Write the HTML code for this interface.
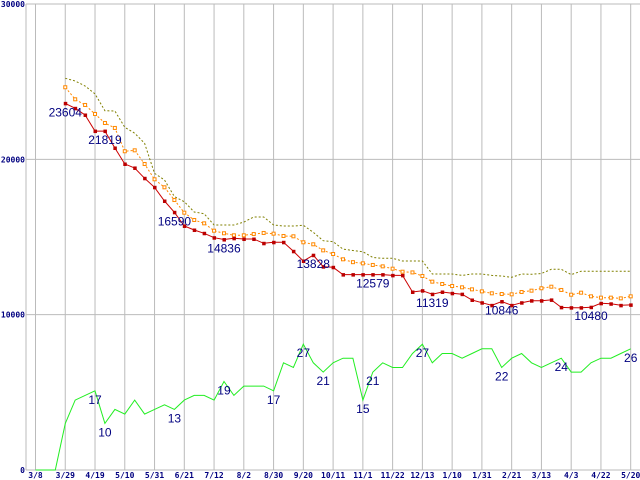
<!DOCTYPE html>
<html><head><meta charset="utf-8"><style>
html,body{margin:0;padding:0;background:#fff}
svg{display:block}
</style></head><body>
<svg id="chart" width="640" height="480" xmlns="http://www.w3.org/2000/svg" font-family="Liberation Sans, sans-serif"></svg>
<script>
const xTickLabels = ["3/8","3/29","4/19","5/10","5/31","6/21","7/12","8/2","8/30","9/20","10/11","11/1","11/22","12/13","1/10","1/31","2/21","3/13","4/3","4/22","5/20"];
const yTickValues = [0,10000,20000,30000];
const N = null;
const redValues = [N,N,N,23604,23285,22855,21819,21819,20730,19700,19445,18780,18200,17318,16590,15710,15450,15240,14955,14836,14916,14870,14870,14595,14660,14660,14080,13455,13828,13090,13050,12579,12579,12579,12579,12579,12530,12530,11460,11545,11319,11460,11375,11320,10945,10770,10600,10846,10600,10770,10900,10900,10950,10470,10450,10450,10480,10730,10700,10600,10630];
const orangeValues = [N,N,N,24640,23865,23500,22920,22340,22020,20520,20580,19700,18715,18200,17380,16565,16095,15880,15405,15240,15110,15110,15190,15260,15215,15065,15045,14660,14530,14140,13905,13565,13380,13305,13200,13110,12960,12765,12720,12490,12125,11975,11845,11760,11630,11500,11375,11330,11310,11460,11545,11700,11800,11590,11285,11415,11180,11095,11095,11050,11180];
const oliveValues = [N,N,N,25215,25045,24720,24210,23130,23110,22065,21680,21030,19100,18670,17600,17275,16610,16500,15775,15770,15770,15960,16285,16285,15775,15710,15710,15750,15300,14760,14700,14220,14130,14045,13680,13630,13630,13455,13455,13455,12620,12620,12620,12530,12620,12620,12530,12490,12405,12620,12600,12650,12920,12920,12580,12800,12800,12800,12800,12800,12800];
const greenValues = [0,0,0,10,15,16,17,10,13,12,15,12,13,14,13,15,16,16,15,19,16,18,18,18,17,23,22,27,23,21,23,24,24,15,21,23,22,22,25,27,23,25,25,24,25,26,26,22,24,25,23,22,23,24,21,21,23,24,24,25,26];
const redLabelIdx = [3,7,14,19,28,34,40,47,56];
const redLabelText = ["23604","21819","16590","14836","13828","12579","11319","10846","10480"];
const greenLabelIdx = [6,7,14,19,24,27,29,33,34,39,47,53,60];
const greenLabelText = ["17","10","13","19","17","27","21","15","21","27","22","24","26"];

const svg = document.getElementById('chart');
const NS = 'http://www.w3.org/2000/svg';
const X0 = 35.5, DX = 9.92, Y0 = 470, Y1 = 4, AXL = 26;
const xAt = i => X0 + DX * i;
const yAt = v => Y0 - (v / 30000) * (Y0 - Y1);
const yG = v => Y0 - (v / 100) * (Y0 - Y1);
function mk(tag, attrs, parent) {
  const e = document.createElementNS(NS, tag);
  for (const k in attrs) e.setAttribute(k, attrs[k]);
  (parent || svg).appendChild(e);
  return e;
}
// grid
const grid = mk('g', {});


yTickValues.forEach(v => {
  const l = mk('line', {x1: AXL, x2: 640, y1: yAt(v), y2: yAt(v), stroke: '#bbbbbb', 'stroke-width': 1}, grid);
  
  
  const t = mk('text', {x: 25, y: yAt(v) + 3, 'text-anchor': 'end', 'font-size': 8, 'font-weight': 'bold', fill: '#000080', 'font-family': 'DejaVu Sans Mono, monospace'});
  t.textContent = v;
  
  
});
mk('line', {x1: AXL, x2: AXL, y1: Y1, y2: Y0, stroke: '#bbbbbb', 'stroke-width': 1}, grid);
xTickLabels.forEach((s, k) => {
  const x = xAt(k * 3);
  const l = mk('line', {x1: x, x2: x, y1: Y1, y2: Y0, stroke: '#bbbbbb', 'stroke-width': 1}, grid);
  
  
  const t = mk('text', {x: x, y: 478, 'text-anchor': 'middle', 'font-size': 8, 'font-weight': 'bold', fill: '#000080', 'font-family': 'DejaVu Sans Mono, monospace'});
  t.textContent = s;
  
  
});
function pts(vals, yf) {
  const a = [];
  vals.forEach((v, i) => { if (v !== null) a.push(xAt(i).toFixed(1) + ',' + yf(v).toFixed(1)); });
  return a.join(' ');
}
// olive
const ol = mk('polyline', {points: pts(oliveValues, yAt), fill: 'none', stroke: '#808000', 'stroke-width': 1, 'stroke-dasharray': '2,2'});


// orange
const orl = mk('polyline', {points: pts(orangeValues, yAt), fill: 'none', stroke: '#ff8800', 'stroke-width': 1, 'stroke-dasharray': '2,2'});


orangeValues.forEach((v, i) => {
  if (v === null) return;
  const r = mk('rect', {x: xAt(i) - 1.5, y: yAt(v) - 1.5, width: 3, height: 3, fill: '#fff', stroke: '#ff8800', 'stroke-width': 1});
  
  
});
// red
const rl = mk('polyline', {points: pts(redValues, yAt), fill: 'none', stroke: '#cc0000', 'stroke-width': 1});


redValues.forEach((v, i) => {
  if (v === null) return;
  const r = mk('rect', {x: xAt(i) - 1.5, y: yAt(v) - 1.5, width: 3.5, height: 3.5, fill: '#bb0000'});
  
  
});
// green
const gl = mk('polyline', {points: pts(greenValues, yG), fill: 'none', stroke: '#22ee22', 'stroke-width': 1});


// labels
redLabelIdx.forEach((i, k) => {
  const t = mk('text', {x: xAt(i), y: yAt(redValues[i]) + 13, 'text-anchor': 'middle', 'font-size': 12, fill: '#000080'});
  t.textContent = redLabelText[k];
  
  
});
greenLabelIdx.forEach((i, k) => {
  const t = mk('text', {x: xAt(i), y: yG(greenValues[i]) + 13, 'text-anchor': 'middle', 'font-size': 12, fill: '#000080'});
  t.textContent = greenLabelText[k];
  
  
});
</script>
</body></html>
